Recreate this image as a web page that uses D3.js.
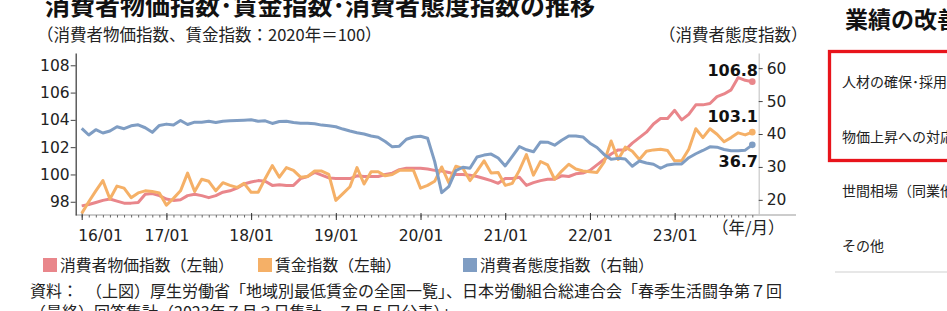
<!DOCTYPE html>
<html>
<head>
<meta charset="utf-8">
<script src="https://cdn.jsdelivr.net/npm/d3@7"></script>
<style>
  body { margin: 0; background: #fff; }
  svg { display: block; }
</style>
</head>
<body>
<div id="chart"></div>
<script>
// monthly, 2016/01 - 2023/12
var cpi = [
  97.7, 97.8, 97.95, 98.1, 98.2, 98.05, 97.9, 97.9, 97.95, 98.55, 98.6, 98.45,
  98.2, 98.1, 98.15, 98.45, 98.55, 98.45, 98.3, 98.45, 98.7, 98.8, 99.0, 99.3,
  99.45, 99.55, 99.5, 99.2, 99.25, 99.2, 99.2, 99.7, 99.85, 100.15, 99.95, 99.75,
  99.7, 99.7, 99.7, 99.9, 99.85, 99.85, 99.85, 100.0, 100.1, 100.35, 100.45, 100.45,
  100.45, 100.4, 100.3, 100.25, 100.15, 100.0, 100.0, 99.95, 99.85, 99.7, 99.55, 99.35,
  99.7, 99.7, 99.8, 99.2, 99.4, 99.55, 99.65, 99.65, 99.9, 99.85, 100.05, 100.1,
  100.3, 100.7, 101.1, 101.5, 101.8, 101.8, 102.3, 102.7, 103.1, 103.7, 104.1, 104.1,
  104.7, 104.0, 104.4, 105.1, 105.1, 105.2, 105.7, 105.9, 106.2, 107.1, 106.9, 106.8
];
var wage = [
  97.15, 98.0, 98.8, 99.55, 98.2, 99.15, 99.0, 98.3, 98.65, 98.8, 98.75, 98.65,
  97.75, 98.25, 98.8, 100.1, 98.75, 99.65, 99.5, 98.8, 99.4, 99.2, 99.05, 99.35,
  98.7, 98.7, 99.7, 100.65, 99.8, 100.5, 100.3, 99.8, 99.85, 100.25, 100.25, 100.0,
  98.1, 98.6, 99.1, 100.5, 99.3, 100.2, 100.2, 99.9, 100.0, 100.3, 100.3, 100.3,
  99.0, 99.2, 99.5, 100.55, 99.4, 100.6, 100.45, 99.55, 100.25, 101.0, 100.1, 100.15,
  99.2, 99.35, 100.3, 101.45, 99.95, 100.95, 100.7, 99.65, 100.25, 100.75, 100.4, 100.25,
  100.2, 100.15, 100.9, 102.45, 101.1, 102.0, 101.7, 101.1, 101.7, 101.8, 101.85, 101.75,
  101.0, 101.0, 101.85, 103.35, 102.7, 103.35, 102.95, 102.4, 102.7, 103.05, 102.9, 103.1
];
var confidence = [
  41.7, 39.7, 41.3, 40.3, 40.9, 42.2, 41.6, 42.5, 42.8, 41.9, 40.5, 42.6,
  43.0, 42.7, 44.1, 42.9, 43.6, 43.6, 43.9, 43.5, 43.9, 44.0, 44.1, 44.2,
  44.3, 43.9, 44.0, 43.2, 43.8, 43.9, 43.5, 43.3, 43.3, 43.1, 42.7, 42.5,
  42.2, 41.5, 40.9, 40.4, 40.0, 39.4, 39.0, 37.7, 36.1, 36.3, 38.4, 39.1,
  39.3, 38.7, 31.7, 22.2, 24.0, 28.9, 29.9, 29.6, 33.0, 33.6, 33.9, 32.7,
  30.3, 33.2, 36.2, 35.2, 34.6, 37.6, 37.5, 36.6, 38.1, 39.4, 39.4, 39.1,
  37.2, 35.9, 33.8, 32.3, 32.6, 32.4, 30.2, 31.8, 31.2, 30.8, 29.6, 30.6,
  30.9, 30.9, 32.8, 34.0, 35.0, 36.1, 36.0, 35.3, 34.9, 34.9, 35.1, 36.7
];

var yearLabels = ['16/01', '17/01', '18/01', '19/01', '20/01', '21/01', '22/01', '23/01'];
var leftTicks = [98, 100, 102, 104, 106, 108];
var rightTicks = [20, 30, 40, 50, 60];
var seriesNames = ['消費者物価指数（左軸）', '賃金指数（左軸）', '消費者態度指数（右軸）'];
var reasons = ['人材の確保･採用', '物価上昇への対応', '世間相場（同業他社の動向）', 'その他'];

var width = 947,
    height = 311;

var red = '#e9868b',
    orange = '#f5b067',
    blue = '#7f9dc3';

var jp = '"Noto Sans CJK JP", sans-serif',
    num = '"DejaVu Sans", Verdana, sans-serif';

var svg = d3.select('#chart').append('svg')
  .attr('width', width)
  .attr('height', height);

var xScale = d3.scaleLinear()
  .domain([0, cpi.length - 1])
  .range([81.7, 752.3]);

var yLeft = d3.scaleLinear()
  .domain([97.03, 108.9])
  .range([215, 53]);

var yRight = d3.scaleLinear()
  .domain([15.4, 64.6])
  .range([215, 53]);

// titles
svg.append('text')
  .attr('x', 45).attr('y', 14.5)
  .style('font-family', jp).style('font-size', '25px').style('font-weight', 'bold')
  .style('fill', '#111')
  .text('消費者物価指数･賃金指数･消費者態度指数の推移');

svg.append('text')
  .attr('x', 37).attr('y', 40.5)
  .style('font-family', jp).style('font-size', '16.5px').style('fill', '#222')
  .text('（消費者物価指数、賃金指数：2020年＝100）');

svg.append('text')
  .attr('x', 659).attr('y', 40.5)
  .style('font-family', jp).style('font-size', '16.5px').style('fill', '#222')
  .text('（消費者態度指数）');

// bottom axis
svg.append('line')
  .attr('x1', 75.7).attr('x2', 796)
  .attr('y1', 215).attr('y2', 215)
  .style('stroke', '#9a9a9a').style('stroke-width', 1.2);

var minorAxis = d3.axisBottom(xScale)
  .tickValues(d3.range(cpi.length))
  .tickSize(2.5)
  .tickSizeOuter(0)
  .tickFormat('');

var minorGuide = svg.append('g').attr('transform', 'translate(0,215)');
minorAxis(minorGuide);
minorGuide.select('.domain').remove();
minorGuide.selectAll('line').style('stroke', '#666');

var hAxis = d3.axisBottom(xScale)
  .tickValues(yearLabels.map(function(d, i) { return i * 12; }))
  .tickSize(5)
  .tickSizeOuter(0)
  .tickPadding(12)
  .tickFormat(function(d) { return yearLabels[d / 12]; });

var hGuide = svg.append('g').attr('transform', 'translate(0,213)');
hAxis(hGuide);
hGuide.select('.domain').remove();
hGuide.selectAll('line').style('stroke', '#333').attr('y2', 7);
hGuide.selectAll('text')
  .style('font-family', num).style('font-size', '15.5px').style('fill', '#222');
hGuide.select('.tick text')
  .attr('text-anchor', 'start').attr('x', -4);

svg.append('text')
  .attr('x', 712).attr('y', 234)
  .style('font-family', jp).style('font-size', '16.5px').style('fill', '#222')
  .text('（年/月）');

// left axis
var vAxis = d3.axisLeft(yLeft)
  .tickValues(leftTicks)
  .tickSize(5)
  .tickSizeOuter(0)
  .tickPadding(1);

var vGuide = svg.append('g').attr('transform', 'translate(75.7,0)');
vAxis(vGuide);
vGuide.select('.domain').style('stroke', '#444').style('stroke-width', 1.3);
vGuide.selectAll('line').style('stroke', '#444');
vGuide.selectAll('text')
  .style('font-family', num).style('font-size', '15.5px').style('fill', '#222');

// right axis
var rAxis = d3.axisRight(yRight)
  .tickValues(rightTicks)
  .tickSize(4)
  .tickSizeOuter(0)
  .tickPadding(4);

var rGuide = svg.append('g').attr('transform', 'translate(758.7,0)');
rAxis(rGuide);
rGuide.select('.domain').style('stroke', '#c8c8c8').style('stroke-width', 1.2);
rGuide.selectAll('line').style('stroke', '#444');
rGuide.selectAll('text')
  .style('font-family', num).style('font-size', '15.5px').style('fill', '#222');

// lines
var series = [
  { values: cpi, scale: yLeft, color: red },
  { values: wage, scale: yLeft, color: orange },
  { values: confidence, scale: yRight, color: blue }
];

series.forEach(function(s) {
  var line = d3.line()
    .x(function(d, i) { return xScale(i); })
    .y(function(d) { return s.scale(d); });

  svg.append('path')
    .datum(s.values)
    .attr('d', line)
    .style('fill', 'none')
    .style('stroke', s.color)
    .style('stroke-width', 3)
    .style('stroke-linejoin', 'round');

  var last = s.values.length - 1;
  svg.append('circle')
    .attr('cx', xScale(last))
    .attr('cy', s.scale(s.values[last]))
    .attr('r', 3.3)
    .style('fill', s.color);
});

// end value labels
var labelShift = [-6, -10.5, 22];
series.forEach(function(s, i) {
  var last = s.values.length - 1;
  svg.append('text')
    .attr('x', 758)
    .attr('y', s.scale(s.values[last]) + labelShift[i])
    .attr('text-anchor', 'end')
    .style('font-family', num).style('font-size', '16px').style('font-weight', 'bold')
    .style('fill', '#111')
    .text(d3.format('.1f')(s.values[last]));
});

// legend
var legendX = [43, 258, 463];
var legend = svg.selectAll('.legend').data(seriesNames)
  .enter().append('g')
  .attr('transform', function(d, i) { return 'translate(' + legendX[i] + ',258)'; });

legend.append('rect')
  .attr('width', 14).attr('height', 14)
  .style('fill', function(d, i) { return series[i].color; });

legend.append('text')
  .attr('x', 17).attr('y', 12.6)
  .style('font-family', jp).style('font-size', '15.8px').style('fill', '#222')
  .text(function(d) { return d; });

// source note
svg.append('text')
  .attr('x', 30).attr('y', 297)
  .style('font-family', jp).style('font-size', '16px').style('fill', '#222')
  .text('資料：　（上図）厚生労働省「地域別最低賃金の全国一覧」、日本労働組合総連合会「春季生活闘争第７回');

svg.append('text')
  .attr('x', 30).attr('y', 318)
  .style('font-family', jp).style('font-size', '16px').style('fill', '#222')
  .text('（最終）回答集計（2023年７月３日集計、７月５日公表）」');

// neighbouring panel
svg.append('text')
  .attr('x', 845).attr('y', 28)
  .style('font-family', jp).style('font-size', '23px').style('font-weight', 'bold')
  .style('fill', '#111')
  .text('業績の改善');

svg.append('rect')
  .attr('x', 829.5).attr('y', 51.5)
  .attr('width', 140).attr('height', 109)
  .style('fill', 'none').style('stroke', '#e8141b').style('stroke-width', 3.3);

svg.selectAll('.reason').data(reasons)
  .enter().append('text')
  .attr('x', 842)
  .attr('y', function(d, i) { return 87 + i * 54.5; })
  .style('font-family', jp).style('font-size', '14px').style('fill', '#222')
  .text(function(d) { return d; });

svg.append('line')
  .attr('x1', 835).attr('x2', 947)
  .attr('y1', 272).attr('y2', 272)
  .style('stroke', '#cfcfcf').style('stroke-width', 1);
</script>
</body>
</html>
